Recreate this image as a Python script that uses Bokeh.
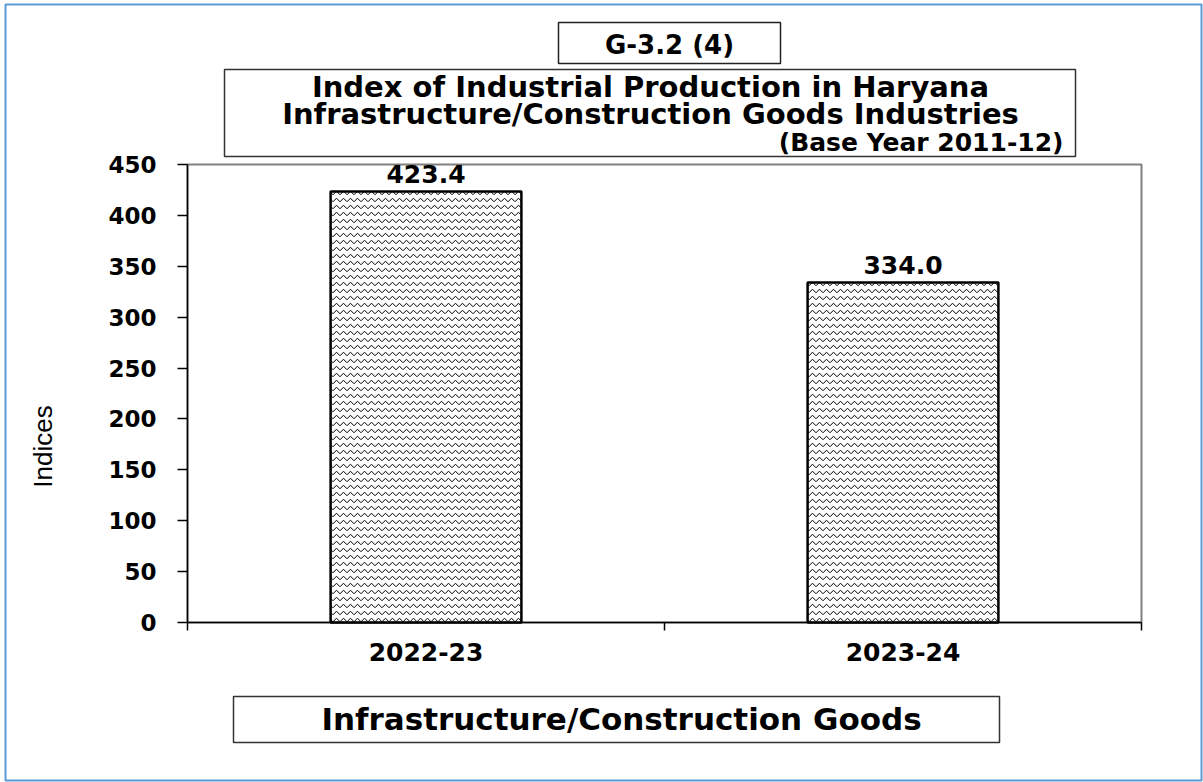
import math
from bokeh.plotting import figure
from bokeh.models import BoxAnnotation, FixedTicker, ColumnDataSource, Range1d
from bokeh.core.properties import value
from bokeh.embed import file_html
from bokeh.resources import INLINE

# ---- data ----
years = ["2022-23", "2023-24"]
indices = [423.4, 334.0]
value_labels = ["423.4", "334.0"]
y_ticks = [0, 50, 100, 150, 200, 250, 300, 350, 400, 450]
y_max = 450

chart_code = "G-3.2 (4)"
title_lines = ["Index of Industrial Production in Haryana",
               "Infrastructure/Construction Goods Industries"]
base_year = "(Base Year 2011-12)"
category_name = "Infrastructure/Construction Goods"
y_title = "Indices"

BOLD = "DejaVu Sans"
W, H = 1203, 782
# plot-area placement on the canvas (pixels)
L, R, T, B = 187, 1141, 164, 622
ncat = len(years)
xpx = (R - L) / ncat
ypx = (B - T) / y_max

p = figure(width=W, height=H,
           x_range=(-L / xpx, ncat + (W - R) / xpx),
           y_range=(-(H - B) / ypx, y_max + T / ypx),
           output_backend="svg", toolbar_location=None, tools="",
           min_border=0)
p.extra_x_ranges = {"px": Range1d(0, W)}
p.extra_y_ranges = {"px": Range1d(H, 0)}
p.grid.visible = False
p.outline_line_color = None
p.background_fill_color = "white"
p.border_fill_color = "white"

# plot-area border (gray)
p.add_layout(BoxAnnotation(left=0, right=ncat, bottom=0, top=y_max,
                           fill_alpha=0, line_color="#808080", line_alpha=1.0,
                           line_width=2, level="underlay"))

xs = [i + 0.5 for i in range(ncat)]
src = ColumnDataSource(dict(x=xs, top=indices, lab=value_labels))
p.vbar(x="x", top="top", width=0.4, source=src, fill_color="white",
       line_color="black", line_width=2.5,
       hatch_pattern="horizontal_wave", hatch_color="black",
       hatch_scale=7, hatch_weight=1)
p.text(x="x", y="top", text="lab", source=src, text_align="center",
       text_baseline="middle", y_offset=-18, text_font=value(BOLD),
       text_font_style="bold", text_font_size="25px", text_color="black")

# y axis
ya = p.yaxis[0]
ya.fixed_location = 0
ya.bounds = (0, y_max)
ya.ticker = FixedTicker(ticks=y_ticks)
ya.major_tick_out = 10
ya.major_tick_in = 0
ya.minor_tick_line_color = None
ya.axis_line_width = 1.5
ya.major_tick_line_width = 1.5
ya.major_label_standoff = 21
ya.major_label_text_font = BOLD
ya.major_label_text_font_style = "bold"
ya.major_label_text_font_size = "23px"
ya.major_label_text_color = "black"

# x axis
xa = p.xaxis[0]
xa.fixed_location = 0
xa.bounds = (0, ncat)
xa.ticker = FixedTicker(ticks=xs, minor_ticks=list(range(ncat + 1)))
xa.major_label_overrides = {x: y for x, y in zip(xs, years)}
xa.major_tick_line_color = None
xa.major_tick_out = 0
xa.minor_tick_out = 8
xa.minor_tick_in = 0
xa.minor_tick_line_color = "black"
xa.minor_tick_line_width = 1.5
xa.axis_line_width = 1.5
xa.major_label_standoff = 12
xa.major_label_text_font = BOLD
xa.major_label_text_font_style = "bold"
xa.major_label_text_font_size = "25px"
xa.major_label_text_color = "black"

# ---- decorations in pixel coordinates ----
def box(l, r, t, b, color="black", width=1.5):
    p.quad(left=[l], right=[r], top=[t], bottom=[b], fill_color=None,
           line_color=color, line_width=width,
           x_range_name="px", y_range_name="px")


def label(x, y, txt, size, align="center", style="bold", font=BOLD, angle=0):
    p.text(x=[x], y=[y], text=[txt], text_align=align, text_baseline="middle",
           text_font=value(font), text_font_style=style, angle=angle,
           text_font_size=size, text_color="black",
           x_range_name="px", y_range_name="px")


box(5, 1201, 4, 780, color="#5b9bd5", width=2)
box(558, 780, 22, 63, color="#222222")
label(669, 44, chart_code, "26px")
box(224, 1075, 69, 156, color="#333333")
label(650, 86, title_lines[0], "29px")
label(650, 113, title_lines[1], "29px")
label(1063, 142, base_year, "25px", align="right")
box(233, 999, 696, 742, color="#333333")
label(621, 718, category_name, "31px")
label(42, 446, y_title, "26px", style="normal", font="Liberation Sans",
      angle=math.pi / 2)

open("out.html", "w").write(file_html(p, INLINE))
